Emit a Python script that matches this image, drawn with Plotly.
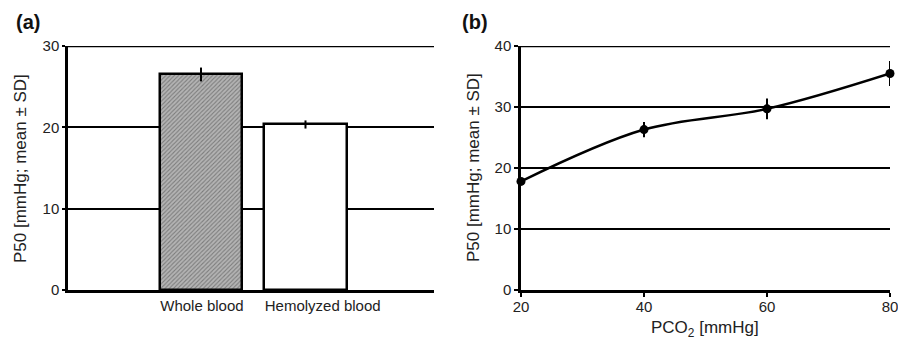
import plotly.graph_objects as go

# Panel (a)
categories = ["Whole blood", "Hemolyzed blood"]
p50_means = [26.5, 20.35]
p50_sd = [0.85, 0.5]
bar_fill = ["#b4b4b4", "white"]

# Panel (b)
pco2 = [20, 40, 60, 80]
p50_curve = [17.8, 26.3, 29.7, 35.5]
p50_curve_sd = [0.4, 1.25, 1.7, 2.05]

yticks_a = [0, 10, 20, 30]
yticks_b = [0, 10, 20, 30, 40]
xticks_b = [20, 40, 60, 80]

W, H = 898, 339
FONT = "Liberation Sans, Arial, sans-serif"
TXT = "#222"
font = dict(family=FONT, size=14, color=TXT)

fig = go.Figure()

fig.add_trace(go.Bar(
    x=categories, y=p50_means, width=0.79,
    marker=dict(
        color=bar_fill,
        line=dict(color="black", width=2.5),
        pattern=dict(shape=["/", ""], fgcolor="#4a4a4a", fillmode="overlay",
                     size=3, solidity=0.35),
    ),
    error_y=dict(type="data", array=p50_sd, color="black", thickness=2, width=0),
    xaxis="x", yaxis="y", showlegend=False,
))

fig.add_trace(go.Scatter(
    x=pco2, y=p50_curve, mode="lines+markers",
    line=dict(color="black", width=2.5, shape="spline", smoothing=1.0),
    marker=dict(color="black", size=9),
    error_y=dict(type="data", array=p50_curve_sd, color="black", thickness=2, width=0),
    xaxis="x2", yaxis="y2", showlegend=False, cliponaxis=False,
))

ybot = (H - 290) / H
ytop = (H - 46) / H

common = dict(automargin=False, fixedrange=True, ticklabeloverflow="allow")
fig.update_layout(
    width=W, height=H,
    margin=dict(l=0, r=0, t=0, b=0, autoexpand=False),
    paper_bgcolor="white", plot_bgcolor="white",
    font=font,
    bargap=0,
    xaxis=dict(domain=[68 / W, 434 / W], type="category", range=[-1.273, 2.23],
               showline=True, linecolor="black", linewidth=2.5,
               showgrid=False, ticks="", ticklabelstandoff=0, tickangle=0,
               ticklabelposition="outside right", ticklabelshift=-42,
               tickfont=dict(size=15, color=TXT), **common),
    yaxis=dict(domain=[ybot, ytop], range=[0, 30], tickvals=yticks_a,
               showline=True, linecolor="black", linewidth=2.5,
               showgrid=True, gridcolor="black", gridwidth=2,
               ticks="outside", ticklen=3, tickwidth=2, tickcolor="black",
               zeroline=False, tickfont=dict(size=15, color=TXT), **common),
    xaxis2=dict(domain=[521 / W, 890 / W], range=[20, 80], tickvals=xticks_b,
                anchor="y2",
                showline=True, linecolor="black", linewidth=2.5,
                showgrid=False, zeroline=False,
                ticks="outside", ticklen=4, tickwidth=2, tickcolor="black",
                ticklabelstandoff=-3, tickangle=0,
                tickfont=dict(size=15, color=TXT), **common),
    yaxis2=dict(domain=[ybot, ytop], range=[0, 40], tickvals=yticks_b,
                anchor="x2",
                showline=True, linecolor="black", linewidth=2.5,
                showgrid=True, gridcolor="black", gridwidth=2,
                ticks="outside", ticklen=4, tickwidth=2, tickcolor="black",
                zeroline=False, tickfont=dict(size=15, color=TXT), **common),
)

# top gridlines at the upper end of each value axis
shapes = [
    dict(type="line", xref="x domain", yref="y", x0=-0.006, x1=1, y0=max(yticks_a), y1=max(yticks_a),
         line=dict(color="black", width=2.5), layer="below"),
    dict(type="line", xref="x2 domain", yref="y2", x0=-0.006, x1=1, y0=max(yticks_b), y1=max(yticks_b),
         line=dict(color="black", width=2.5), layer="below"),
]

ann = [
    dict(text="<b>(a)</b>", x=14 / W, y=(H - 22) / H, xanchor="left", yanchor="middle",
         font=dict(size=20, color="#111")),
    dict(text="<b>(b)</b>", x=460 / W, y=(H - 22) / H, xanchor="left", yanchor="middle",
         font=dict(size=20, color="#111")),
    dict(text="P50 [mmHg; mean ± SD]", textangle=-90, x=20 / W, y=(H - 169) / H,
         xanchor="center", yanchor="middle", font=dict(size=17, color=TXT)),
    dict(text="P50 [mmHg; mean ± SD]", textangle=-90, x=473 / W, y=(H - 168) / H,
         xanchor="center", yanchor="middle", font=dict(size=17, color=TXT)),
    dict(text="PCO<sub>2</sub> [mmHg]", x=705 / W, y=(H - 329) / H,
         xanchor="center", yanchor="middle", font=dict(size=17, color=TXT)),
]
for a in ann:
    a.update(xref="paper", yref="paper", showarrow=False)
fig.update_layout(annotations=ann, shapes=shapes)

fig.write_html("out.html")
